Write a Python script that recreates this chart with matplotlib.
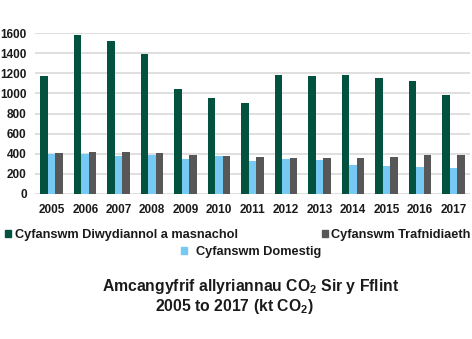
import numpy as np
import matplotlib
matplotlib.use("Agg")
import matplotlib.pyplot as plt
from matplotlib.patches import Patch

plt.rcParams['font.family'] = ['Liberation Sans', 'DejaVu Sans']
plt.rcParams['mathtext.fontset'] = 'custom'
plt.rcParams['mathtext.rm'] = 'Liberation Sans:bold'
plt.rcParams['mathtext.bf'] = 'Liberation Sans:bold'

years = ['2005', '2006', '2007', '2008', '2009', '2010', '2011',
         '2012', '2013', '2014', '2015', '2016', '2017']
diwydiannol = [1176, 1577, 1518, 1395, 1040, 954, 901, 1183, 1176, 1180, 1153, 1123, 984]
domestig = [401, 401, 381, 388, 351, 381, 325, 348, 338, 288, 278, 268, 258]
trafnidiaeth = [408, 417, 417, 404, 391, 378, 365, 358, 355, 361, 371, 388, 388]

c_green = '#03523f'
c_blue = '#75c9f3'
c_grey = '#575757'
c_text = '#1a1a1a'

fig = plt.figure(figsize=(4.72, 3.39), dpi=100)
ax = fig.add_axes([35/472, 1 - 194/339, 435/472, 161/339])

x = np.arange(len(years))
w = 0.225
ax.bar(x - w, diwydiannol, w, color=c_green, zorder=3)
ax.bar(x, domestig, w, color=c_blue, zorder=3)
ax.bar(x + w, trafnidiaeth, w, color=c_grey, zorder=3)

ax.set_xlim(-0.5, len(years) - 0.5)
ax.set_ylim(0, 1600)
ax.set_yticks(range(0, 1601, 200))
ax.yaxis.grid(True, color='#d9d9d9', linewidth=1.2, zorder=0)
for s in ax.spines.values():
    s.set_visible(False)
ax.tick_params(length=0)
ax.tick_params(axis='y', pad=6)
ax.tick_params(axis='x', pad=7)
ax.set_xticks(x)
ax.set_xticklabels(years)
for lab in ax.get_xticklabels() + ax.get_yticklabels():
    lab.set_fontweight('bold')
    lab.set_fontsize(8.5)
    lab.set_color(c_text)

lkw = dict(frameon=False, fontsize=9.2, handlelength=0.5, handleheight=0.5,
           borderaxespad=0, borderpad=0, loc='center left')
legends = [
    fig.legend([Patch(color=c_green)], ['Cyfanswm Diwydiannol a masnachol'],
               bbox_to_anchor=(5/472, 1 - 235/339), handletextpad=0.25, **lkw),
    fig.legend([Patch(color=c_grey)], ['Cyfanswm Trafnidiaeth'],
               bbox_to_anchor=(322/472, 1 - 235/339), handletextpad=0.2, **lkw),
    fig.legend([Patch(color=c_blue)], ['Cyfanswm Domestig'],
               bbox_to_anchor=(181/472, 1 - 252/339), handletextpad=0.65, **lkw),
]
for leg in legends:
    for t in leg.get_texts():
        t.set_fontweight('bold')
        t.set_color(c_text)

fig.text(251/472, 1 - 287/339, r'Amcangyfrif allyriannau CO$_2$ Sir y Fflint',
         ha='center', va='center', fontsize=11.3, fontweight='bold', color=c_text)
fig.text(234/472, 1 - 306/339, r'2005 to 2017 (kt CO$_2$)',
         ha='center', va='center', fontsize=11.3, fontweight='bold', color=c_text)

fig.savefig('out.png', dpi=100)
